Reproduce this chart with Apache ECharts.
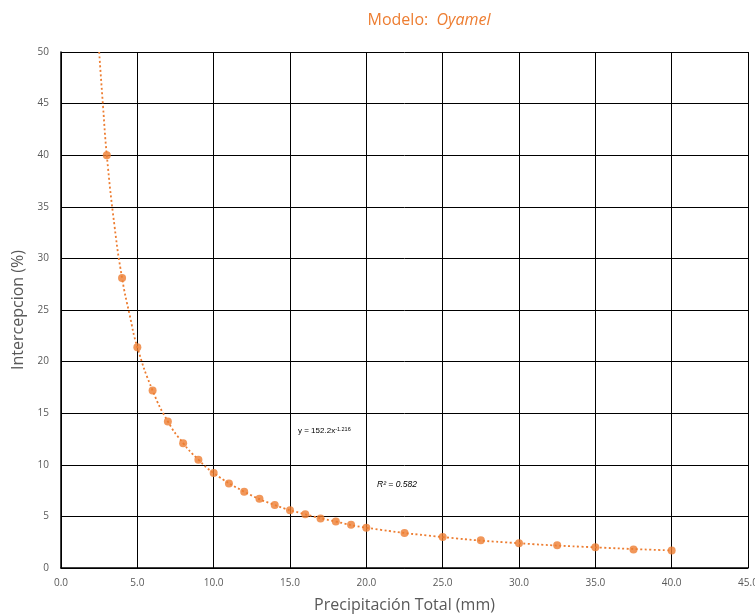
<!DOCTYPE html>
<html><head><meta charset="utf-8">
<script src="https://cdn.jsdelivr.net/npm/echarts@6/dist/echarts.min.js"></script>
<style>html,body{margin:0;padding:0;background:#fff}#c{width:755px;height:616px}</style>
</head><body><div id="c"></div>
<script>
// Observed data points (Precipitación Total mm, Intercepción %)
const precip = [3,4,5,6,7,8,9,10,11,12,13,14,15,16,17,18,19,20,22.5,25,27.5,30,32.5,35,37.5,40];
const intercep = [40.0,28.1,21.4,17.2,14.2,12.1,10.5,9.2,8.2,7.4,6.7,6.1,5.6,5.2,4.8,4.5,4.2,3.9,3.4,3.0,2.7,2.4,2.2,2.0,1.8,1.7];
// Trend line (potential fit)
const trendX = [2.5,2.75,3,3.5,4,4.5,5,6,7,8,9,10,12,14,16,18,20,25,30,35,40];
const trendY = [50.0,44.8,40.0,33.2,28.1,24.5,21.4,17.2,14.2,12.1,10.5,9.2,7.4,6.1,5.2,4.5,3.9,3.0,2.4,2.0,1.7];
const xTicks = [0,5,10,15,20,25,30,35,40,45];
const yTicks = [0,5,10,15,20,25,30,35,40,45,50];
const titleMain = 'Modelo:  ';
const titleItalic = 'Oyamel';
const eqText = 'y = 152.2x';
const eqExp = '-1.216';
const r2Text = 'R² = 0.582';

const ORANGE = '#ED7D31';
const chart = echarts.init(document.getElementById('c'));
chart.setOption({
  animation:false,
  title:{
    text:'{a|'+titleMain+'}{b|'+titleItalic+'}',
    left:424, top:7, textAlign:'center',
    textStyle:{fontWeight:'normal',rich:{
      a:{fontFamily:'Open Sans',fontSize:16,color:ORANGE,fontWeight:'normal'},
      b:{fontFamily:'Open Sans',fontSize:16,color:ORANGE,fontStyle:'italic',fontWeight:'normal'}
    }}
  },
  grid:{left:61,right:7,top:52,bottom:48,containLabel:false,outerBoundsMode:'none'},
  xAxis:{
    type:'value',min:0,max:45,interval:5,
    name:'Precipitación Total (mm)',nameLocation:'middle',nameGap:29,
    nameTextStyle:{fontFamily:'Open Sans',fontSize:16,color:'#595959'},
    axisLine:{lineStyle:{color:'#000',width:1.5}},
    axisTick:{show:false},
    axisLabel:{fontFamily:'Open Sans',fontSize:10,color:'#595959',margin:10,
      formatter:v=>v.toFixed(1)},
    splitLine:{show:true,lineStyle:{color:'#000',width:1}}
  },
  yAxis:{
    type:'value',min:0,max:50,interval:5,
    name:'Intercepcion (%)',nameLocation:'middle',nameGap:31,
    nameTextStyle:{fontFamily:'Open Sans',fontSize:16,color:'#595959'},
    axisLine:{show:true,lineStyle:{color:'#000',width:1.5}},
    axisTick:{show:false},
    axisLabel:{fontFamily:'Open Sans',fontSize:10,color:'#595959',margin:12},
    splitLine:{show:true,lineStyle:{color:'#000',width:1}}
  },
  series:[
    {type:'line',data:trendX.map((x,i)=>[x,trendY[i]]),smooth:true,showSymbol:false,
     lineStyle:{color:ORANGE,width:1.8,type:[2,2.5]},z:2},
    {type:'scatter',data:precip.map((x,i)=>[x,intercep[i]]),symbolSize:8,
     itemStyle:{color:ORANGE},z:3}
  ],
  graphic:[
    {type:'text',left:298,top:426,style:{
      text:'{a|'+eqText+'}{b|'+eqExp+'}',
      rich:{a:{fontFamily:'Liberation Sans',fontSize:8,color:'#595959'},
            b:{fontFamily:'Liberation Sans',fontSize:5.5,color:'#595959',verticalAlign:'top',padding:[0,0,4,0]}}
    }},
    {type:'text',left:377,top:480,style:{
      text:r2Text,fontFamily:'Liberation Sans',fontSize:8.5,fontStyle:'italic',fill:'#000'
    }}
  ]
});
</script></body></html>
